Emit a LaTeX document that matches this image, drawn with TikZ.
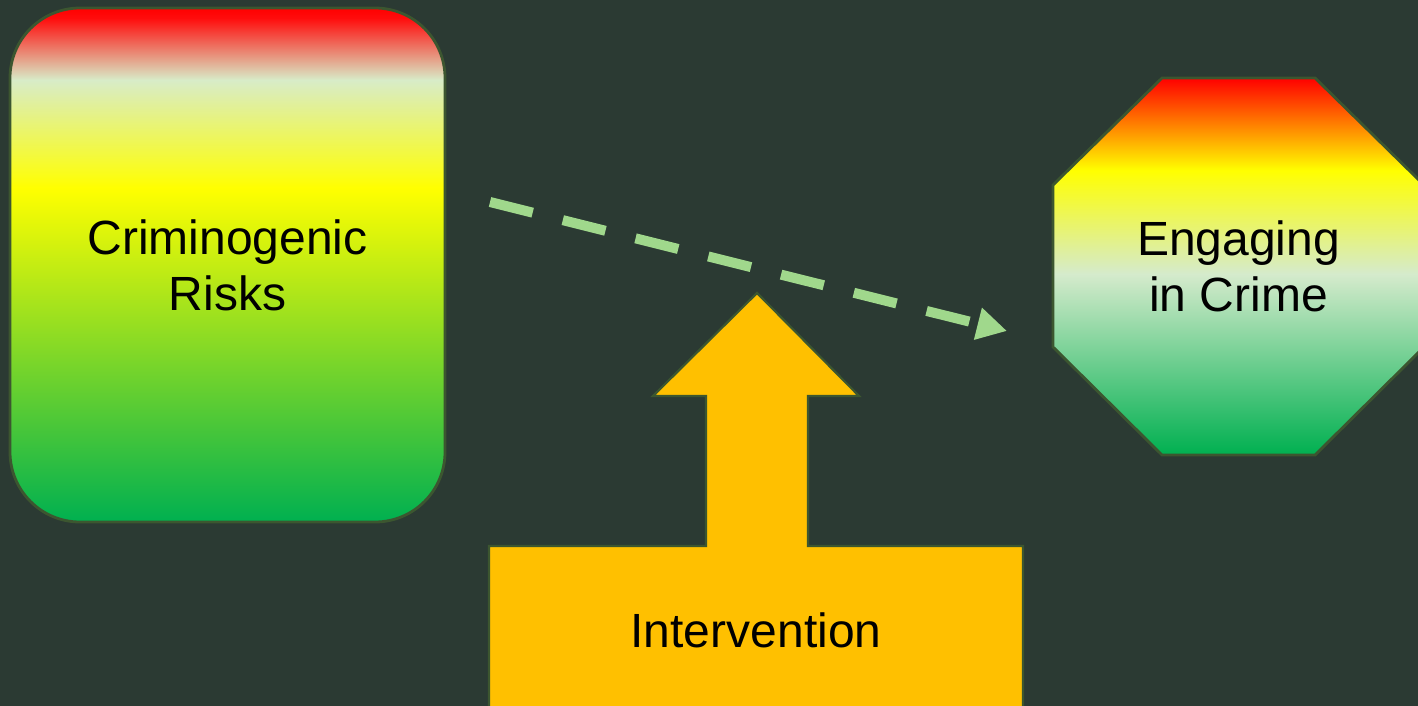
\documentclass[tikz,border=0pt]{standalone}
\usepackage{fontspec}
\setmainfont{Liberation Sans}
\usetikzlibrary{arrows.meta}
\definecolor{bg}{RGB}{43,58,51}
\definecolor{edge}{RGB}{60,86,48}
\definecolor{gold}{RGB}{255,192,0}
\definecolor{dashgreen}{RGB}{160,216,140}
\pgfdeclareverticalshading{rectgrad}{100bp}{rgb(0bp)=(0,0.69,0.314); rgb(25bp)=(0,0.69,0.314); rgb(57.5bp)=(1,1,0); rgb(68bp)=(0.847,0.925,0.784); rgb(74bp)=(1,0.05,0.05); rgb(75bp)=(1,0,0); rgb(100bp)=(1,0,0)}
\pgfdeclareverticalshading{octgrad}{100bp}{rgb(0bp)=(0,0.69,0.314); rgb(25bp)=(0,0.69,0.314); rgb(49bp)=(0.835,0.92,0.8); rgb(62.75bp)=(1,1,0); rgb(75bp)=(1,0,0); rgb(100bp)=(1,0,0)}
\tikzset{
  bigtext/.style={font=\fontsize{48}{56}\selectfont, text=black, align=center},
  outline/.style={draw=edge, line width=2.8pt},
  dasharrow/.style={draw=dashgreen, line width=10pt, dash pattern=on 44pt off 31pt,
    -{Triangle[length=30pt,width=31pt]}}
}
\begin{document}
\begin{tikzpicture}[x=1pt,y=-1pt]
\clip (0,0) rectangle (1418,706);
\fill[bg] (0,0) rectangle (1418,706);
% Criminogenic risks
\node[outline, shade, shading=rectgrad, rounded corners=70pt, minimum width=435pt,
  minimum height=514pt, inner sep=0pt, bigtext] (risk) at (227.5,265) {Criminogenic\\Risks};
% Engaging in crime octagon
\shade[shading=octgrad, outline] (1162,78) -- (1315,78) -- (1424,185) -- (1424,347)
  -- (1315,455) -- (1162,455) -- (1053,347) -- (1053,185) -- cycle;
\node[bigtext] (crime) at (1238.5,266.5) {Engaging\\in Crime};
% Intervention
\filldraw[fill=gold, outline, line width=2.2pt, line join=miter] (489,546) -- (706,546) -- (706,396) -- (653,396)
  -- (757,293) -- (859,396) -- (808,396) -- (808,546) -- (1023,546) -- (1023,716)
  -- (489,716) -- cycle;
\node[bigtext] (interv) at (756,630) {Intervention};
% dashed arrow
\coordinate (ds) at (490,202);
\coordinate (de) at (1007,331);
\draw[dasharrow] (ds) -- (de);
\end{tikzpicture}
\end{document}
